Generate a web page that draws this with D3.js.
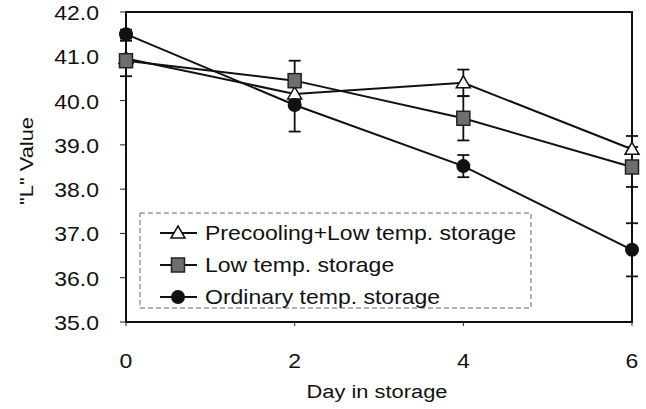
<!DOCTYPE html>
<html lang="en">
<head>
<meta charset="UTF-8">
<title>L value</title>
<script src="https://d3js.org/d3.v7.min.js"></script>
<style>
body{margin:0;background:#fff;}
text{font-family:"Liberation Sans",Arial,sans-serif;fill:#111;}
</style>
</head>
<body>
<script>
// values
var days = [0, 2, 4, 6];
var yTicks = [35, 36, 37, 38, 39, 40, 41, 42];
var precoolVals = [40.95, 40.15, 40.4, 38.9];
var precoolErr = [0.4, 0.15, 0.3, 0.3];
var lowVals = [40.9, 40.45, 39.6, 38.5];
var lowErr = [0.1, 0.45, 0.5, 0.45];
var ordVals = [41.5, 39.9, 38.52, 36.63];
var ordErr = [0.1, 0.6, 0.25, 0.6];
var seriesNames = ["Precooling+Low temp. storage", "Low temp. storage", "Ordinary temp. storage"];

var W = 646, H = 409;
var sx = 1.15; // the scan is stretched sideways a bit
var svg = d3.select("body").append("svg").attr("width", W).attr("height", H);

var x = d3.scaleLinear().domain([0, 6]).range([126, 632]);
var y = d3.scaleLinear().domain([35, 42]).range([322, 12]);

function label(g, tx, ty, str, anchor, size, rot){
	var t = "translate(" + tx + "," + ty + ")" + (rot ? " rotate(" + rot + ")" : "") + " scale(" + sx + ",1)";
	return g.append("text").attr("transform", t)
		.attr("text-anchor", anchor).style("font-size", size + "px").text(str);
}

// frame
svg.append("rect").attr("x", x(0)).attr("y", y(42)).attr("width", x(6) - x(0)).attr("height", y(35) - y(42))
	.style("fill", "none").style("stroke", "#111").style("stroke-width", 2);

// y axis ticks
var ya = svg.append("g");
yTicks.forEach(function(v){
	ya.append("line").attr("x1", x(0) - 6).attr("x2", x(0)).attr("y1", y(v)).attr("y2", y(v))
		.style("stroke", "#222").style("stroke-width", 1);
	label(ya, 99, y(v) + 8, v.toFixed(1), "end", 20);
});
// x axis ticks
days.forEach(function(d){
	ya.append("line").attr("x1", x(d)).attr("x2", x(d)).attr("y1", y(35)).attr("y2", y(35) + 4)
		.style("stroke", "#222").style("stroke-width", 1);
	label(ya, x(d), 368, String(d), "middle", 20);
});
label(svg, x(3) - 2, 398, "Day in storage", "middle", 19);
label(svg, 33, 161, "\"L\" Value", "middle", 19, -90);

// legend box
svg.append("rect").attr("x", 140).attr("y", 213).attr("width", 391).attr("height", 95)
	.style("fill", "#fff").style("stroke", "#666").style("stroke-width", 1).style("stroke-dasharray", "5,3");

var series = [
	{name: seriesNames[0], vals: precoolVals, err: precoolErr, shape: "tri"},
	{name: seriesNames[1], vals: lowVals, err: lowErr, shape: "sq"},
	{name: seriesNames[2], vals: ordVals, err: ordErr, shape: "circ"}
];

function marker(g, shape, cx, cy){
	if(shape == "circ"){
		g.append("circle").attr("cx", cx).attr("cy", cy).attr("r", 7).style("fill", "#111");
	} else if(shape == "sq"){
		g.append("rect").attr("x", cx - 6.5).attr("y", cy - 7).attr("width", 13).attr("height", 14)
			.style("fill", "#6e6e6e").style("stroke", "#222").style("stroke-width", 1.5);
	} else {
		g.append("path").attr("d", "M" + cx + "," + (cy - 7) + "L" + (cx + 7) + "," + (cy + 5) + "L" + (cx - 7) + "," + (cy + 5) + "Z")
			.style("fill", "#fff").style("stroke", "#111").style("stroke-width", 1.5);
	}
}

var line = d3.line().x(function(d, i){ return x(days[i]); }).y(function(d){ return y(d); });

series.forEach(function(s){
	var g = svg.append("g");
	// error bars
	s.vals.forEach(function(v, i){
		var cx = x(days[i]);
		var lo = y(v - s.err[i]), hi = y(v + s.err[i]);
		g.append("line").attr("x1", cx).attr("x2", cx).attr("y1", lo).attr("y2", hi)
			.style("stroke", "#111").style("stroke-width", 1.8);
		[lo, hi].forEach(function(yy){
			g.append("line").attr("x1", cx - 6).attr("x2", cx + 6).attr("y1", yy).attr("y2", yy)
				.style("stroke", "#111").style("stroke-width", 1.8);
		});
	});
	g.append("path").datum(s.vals).attr("d", line)
		.style("fill", "none").style("stroke", "#111").style("stroke-width", 2);
});
series.forEach(function(s){
	var g = svg.append("g");
	s.vals.forEach(function(v, i){ marker(g, s.shape, x(days[i]), y(v)); });
});

// legend entries
series.forEach(function(s, i){
	var ly = 233 + i * 32;
	var g = svg.append("g");
	g.append("line").attr("x1", 160).attr("x2", 197).attr("y1", ly).attr("y2", ly)
		.style("stroke", "#111").style("stroke-width", 2);
	marker(g, s.shape, 178, ly);
	label(g, 205, ly + 7, s.name, "start", 20);
});
</script>
</body>
</html>
